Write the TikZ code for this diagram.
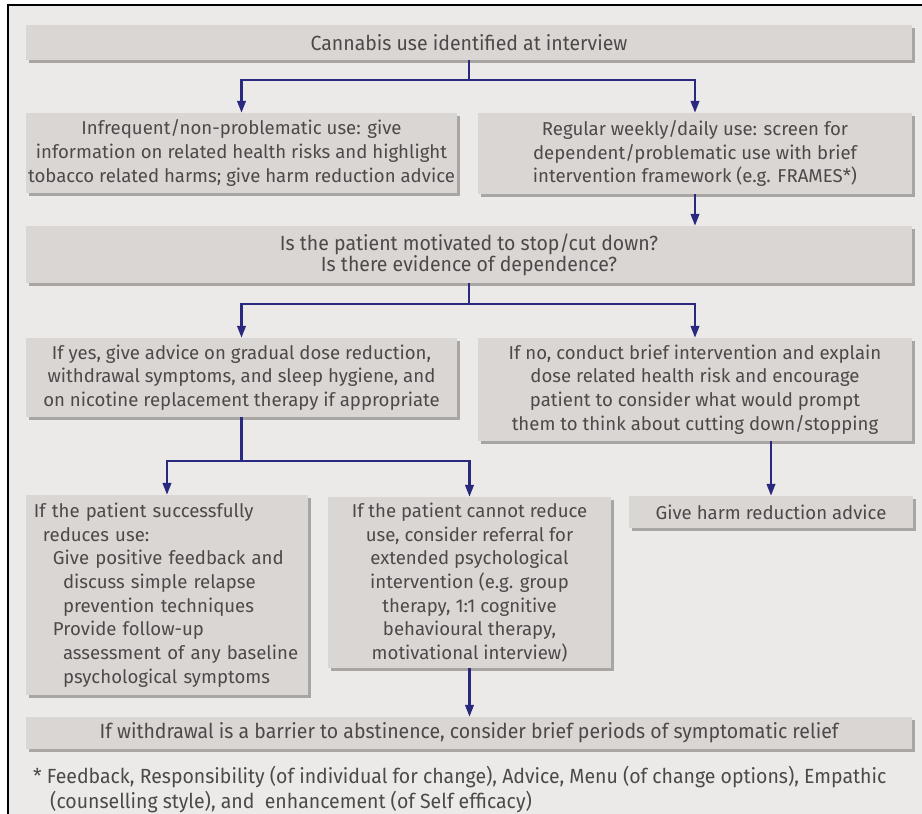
\documentclass[tikz,border=0pt]{standalone}
\usepackage{fontspec}
\setmainfont{Fira Sans}
\newfontfamily\condf[FakeStretch=0.95]{Fira Sans}
\usetikzlibrary{shadows,arrows.meta}
\definecolor{bgc}{HTML}{ECEAE8}
\definecolor{boxc}{HTML}{DAD6D4}
\definecolor{shc}{HTML}{A9A5A3}
\definecolor{txc}{HTML}{4C4948}
\definecolor{arc}{HTML}{29297F}
\begin{document}
\begin{tikzpicture}[x=1pt,y=-1pt,
 box/.style={fill=boxc, draw=none, inner sep=0pt, text=txc,
   drop shadow={shadow xshift=3pt,shadow yshift=-3pt,fill=shc,opacity=1}},
 body/.style={font=\fontsize{18.6}{23.7}\selectfont, align=center},
 cond/.style={font=\condf\fontsize{20.5}{21}\selectfont, align=center},
 conn/.style={draw=arc, line width=2.4pt, -{Triangle[length=12pt,width=8.5pt]}},
 wire/.style={draw=arc, line width=2.4pt}]
\useasboundingbox (0,0) rectangle (922,814);
\fill[bgc] (8,5) rectangle (922,814);
\draw[line width=1.6pt] (8,814) -- (8,5) -- (922,5);

\node[box,cond,minimum width=886pt,minimum height=35pt] (b1) at (469,42.5)
  {Cannabis use identified at interview};
\node[box,body,minimum width=431pt,minimum height=80pt] (b2L) at (241.5,153)
  {Infrequent/non-problematic use: give\\information on related health risks and highlight\\tobacco related harms; give harm reduction advice};
\node[box,body,minimum width=434pt,minimum height=81pt] (b2R) at (695,153.5)
  {Regular weekly/daily use: screen for\\dependent/problematic use with brief\\intervention framework (e.g. FRAMES*)};
\node[box,cond,minimum width=886pt,minimum height=57pt] (b3) at (469,254.5)
  {Is the patient motivated to stop/cut down?\\Is there evidence of dependence?};
\node[box,body,minimum width=431pt,minimum height=79pt] (b4L) at (241.5,377.5)
  {If yes, give advice on gradual dose reduction,\\withdrawal symptoms, and sleep hygiene, and\\on nicotine replacement therapy if appropriate};
\node[box,body,minimum width=434pt,minimum height=103pt] (b4R) at (695,389.5)
  {If no, conduct brief intervention and explain\\dose related health risk and encourage\\patient to consider what would prompt\\them to think about cutting down/stopping};
\node[box,body,align=left,text width=266pt,inner xsep=8pt,minimum width=282pt,minimum height=200pt] (b5L) at (167,595)
  {\mbox{If the patient successfully}\\
   \hspace*{9pt}\mbox{reduces use:}\\
   \hspace*{19pt}\mbox{Give positive feedback and}\\
   \hspace*{29pt}\mbox{discuss simple relapse}\\
   \hspace*{29pt}\mbox{prevention techniques}\\
   \hspace*{19pt}\mbox{Provide follow-up}\\
   \hspace*{29pt}\mbox{assessment of any baseline}\\
   \hspace*{29pt}\mbox{psychological symptoms}};
\node[box,body,minimum width=283pt,minimum height=171pt] (b5M) at (469.5,582.5)
  {If the patient cannot reduce\\use, consider referral for\\extended psychological\\intervention (e.g. group\\therapy, 1:1 cognitive\\behavioural therapy,\\motivational interview)};
\node[box,body,minimum width=284pt,minimum height=32pt] (b5R) at (771,512)
  {Give harm reduction advice};
\node[box,cond,minimum width=886pt,minimum height=32pt] (b6) at (469,733)
  {If withdrawal is a barrier to abstinence, consider brief periods of symptomatic relief};
\node[anchor=west,inner sep=0pt,text=txc,font=\condf\fontsize{20.5}{25}\selectfont,align=left] (fn) at (33,789.5)
  {* Feedback, Responsibility (of individual for change), Advice, Menu (of change options), Empathic\\
   \hspace*{17pt}(counselling style), and~ enhancement (of Self efficacy)};

\coordinate (j1) at (469,80);
\coordinate (j2) at (469,304);
\coordinate (j3) at (241.5,461);
\draw[wire] (b1.south) -- (j1);
\draw[conn] (j1) -| (b2L.north);
\draw[conn] (j1) -| (b2R.north);
\draw[conn] (b2R.south) -- (b2R.south |- b3.north);
\draw[wire] (b3.south) -- (j2);
\draw[conn] (j2) -| (b4L.north);
\draw[conn] (j2) -| (b4R.north);
\draw[wire] (b4L.south) -- (j3);
\draw[conn] (j3) -| (b5L.north);
\draw[conn] (j3) -| (b5M.north);
\draw[conn] (b5R.north |- b4R.south) -- (b5R.north);
\draw[conn] (b5M.south) -- (b5M.south |- b6.north);
\end{tikzpicture}
\end{document}
